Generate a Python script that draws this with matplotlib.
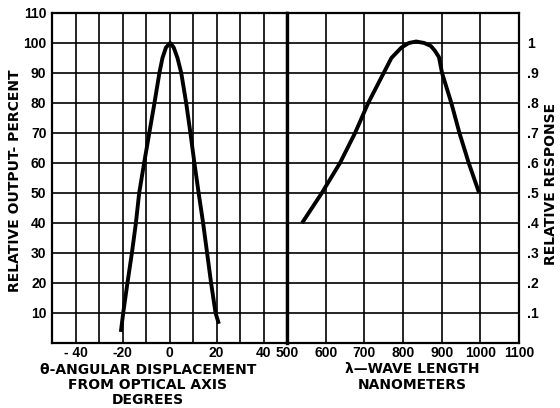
import matplotlib.pyplot as plt

# angular response (left panel)
angle_deg = [-20.7, -19.7, -17.9, -16.0, -14.3, -12.9, -10.8, -8.6, -6.4, -4.3, -3.0, -1.5, 0.3,
             1.8, 3.4, 5.0, 7.1, 8.9, 10.6, 12.4, 14.3, 16.0, 17.7, 19.6, 21.0]
output_pct = [3.7, 10, 20, 30, 40, 50, 60, 70, 80, 90, 95, 98.5, 100,
              98.5, 95, 90, 80, 70, 60, 50, 40, 30, 20, 10, 6.4]

# spectral response (right panel)
wavelength_nm = [539, 590, 637, 676, 710, 750, 770, 796, 815, 834, 855, 872, 882, 893, 901,
                 925, 946, 970, 997]
rel_response = [0.40, 0.50, 0.60, 0.70, 0.80, 0.90, 0.95, 0.985, 1.0, 1.005, 1.0, 0.99, 0.975, 0.953, 0.90,
                0.80, 0.70, 0.60, 0.50]

left_yticks = [10, 20, 30, 40, 50, 60, 70, 80, 90, 100, 110]
left_xticks = [-40, -20, 0, 20, 40]
left_xlabels = ['- 40', '-20', '0', '20', '40']
right_xticks = [500, 600, 700, 800, 900, 1000, 1100]
right_yticks = [0.1, 0.2, 0.3, 0.4, 0.5, 0.6, 0.7, 0.8, 0.9, 1.0]
right_ylabels = ['.1', '.2', '.3', '.4', '.5', '.6', '.7', '.8', '.9', '1']

plt.rcParams['font.family'] = 'DejaVu Sans'
plt.rcParams['font.weight'] = 'bold'

tick_font = dict(family='Liberation Sans', weight='bold', size=10)
label_font = dict(family='DejaVu Sans', weight='bold', size=10)

fig = plt.figure(figsize=(5.6, 4.08), dpi=100)
ax1 = fig.add_axes([52 / 560, 65 / 408, 235 / 560, 330 / 408])
ax2 = fig.add_axes([287 / 560, 65 / 408, 232 / 560, 330 / 408])

# left panel
ax1.set_xlim(-50, 50)
ax1.set_ylim(0, 110)
ax1.set_xticks(range(-50, 51, 10), minor=True)
ax1.set_yticks(range(0, 111, 10), minor=True)
ax1.set_xticks(left_xticks)
ax1.set_xticklabels(left_xlabels, fontdict=tick_font)
ax1.set_yticks(left_yticks)
ax1.set_yticklabels([str(v) for v in left_yticks], fontdict=tick_font)
ax1.grid(which='both', color='black', linewidth=1.2)
ax1.tick_params(which='both', length=0, pad=4)
ax1.tick_params(axis='x', pad=2)
ax1.plot(angle_deg, output_pct, color='black', linewidth=2.8, solid_capstyle='butt')
for sp in ax1.spines.values():
    sp.set_linewidth(1.6)

# right panel
ax2.set_xlim(500, 1100)
ax2.set_ylim(0, 1.1)
ax2.set_xticks(right_xticks)
ax2.set_xticklabels([str(v) for v in right_xticks], fontdict=tick_font)
ax2.set_yticks([i / 10 for i in range(12)], minor=True)
ax2.set_yticks(right_yticks)
ax2.set_yticklabels(right_ylabels, fontdict=tick_font)
ax2.grid(which='both', color='black', linewidth=1.2)
ax2.yaxis.tick_right()
ax2.tick_params(which='both', length=0, pad=6)
ax2.tick_params(axis='x', pad=2)
ax2.plot(wavelength_nm, rel_response, color='black', linewidth=2.8, solid_capstyle='butt')
for sp in ax2.spines.values():
    sp.set_linewidth(1.6)
ax2.spines['left'].set_linewidth(2.4)

# axis titles
fig.text(15 / 560, 1 - 181 / 408, 'RELATIVE OUTPUT- PERCENT', rotation=90,
         ha='center', va='center', **label_font)
fig.text(551 / 560, 1 - 184 / 408, 'RELATIVE RESPONSE', rotation=90,
         ha='center', va='center', **label_font)
fig.text(148 / 560, 1 - 385 / 408, 'θ-ANGULAR DISPLACEMENT\nFROM OPTICAL AXIS\nDEGREES',
         ha='center', va='center', multialignment='center', linespacing=1.1, **label_font)
fig.text(412 / 560, 1 - 377 / 408, 'λ—WAVE LENGTH\nNANOMETERS',
         ha='center', va='center', multialignment='center', linespacing=1.1, **label_font)

fig.savefig('out.png', dpi=100)
